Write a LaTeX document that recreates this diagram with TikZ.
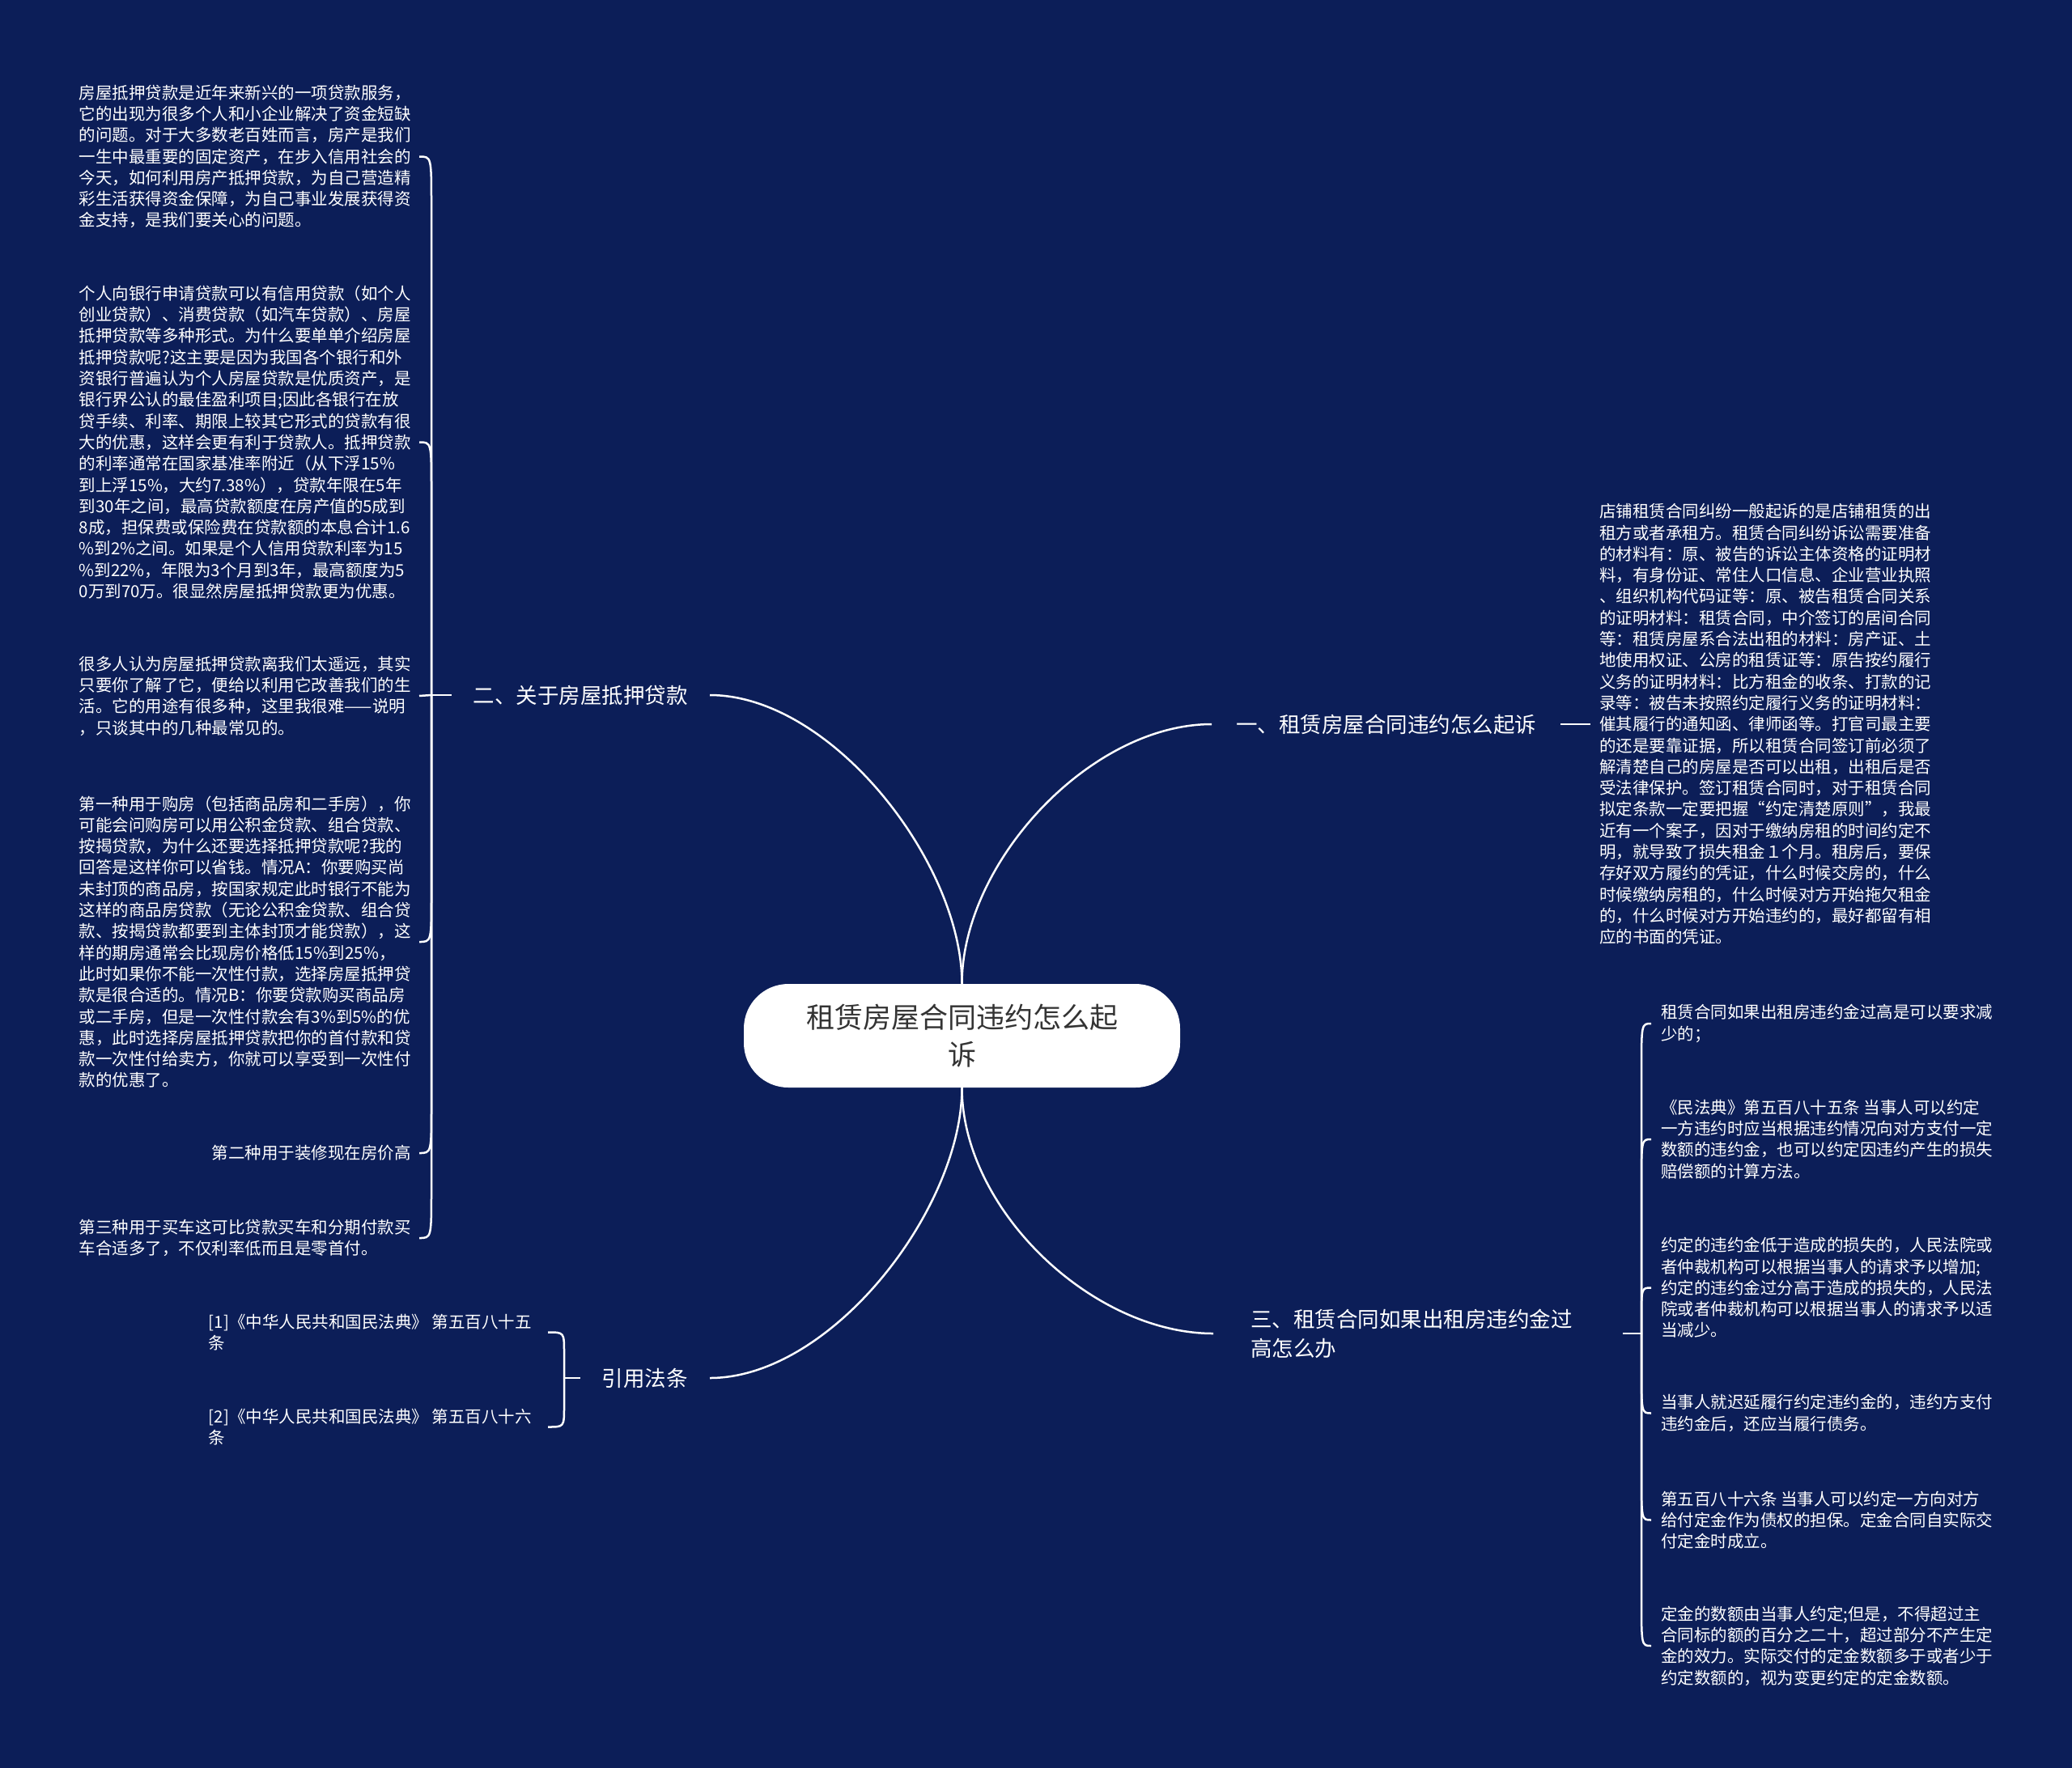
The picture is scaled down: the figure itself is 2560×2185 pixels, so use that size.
\documentclass[tikz,border=0pt]{standalone}
\usepackage{fontspec}
\setmainfont{Noto Sans CJK SC}
\usetikzlibrary{calc}
\definecolor{bgnavy}{HTML}{0C1E58}
\definecolor{hubtext}{HTML}{333333}
\begin{document}
\begin{tikzpicture}[x=1pt,y=-1pt,
  link/.style={draw=white, line width=2.5pt},
  leaf/.style={text=white, font=\fontsize{20.5}{26.3}\selectfont, align=left, inner xsep=10pt, inner ysep=0pt},
  branch/.style={text=white, font=\fontsize{26.5}{36}\selectfont, inner ysep=4pt},
  hub/.style={fill=white, rounded corners=55pt, minimum width=539pt, minimum height=128pt, align=center, text=hubtext, font=\fontsize{35}{46}\selectfont}]
\fill[bgnavy] (0,0) rectangle (2560,2185);
\useasboundingbox (0,0) rectangle (2560,2185);

% centre
\node[hub] (c) at (1188.5,1280) {租赁房屋合同违约怎么起\\诉};

% branches
\node[branch, anchor=west, inner xsep=30pt] (b1) at (1497,895) {一、租赁房屋合同违约怎么起诉};
\node[branch, anchor=east, inner xsep=27pt] (b2) at (877,859) {二、关于房屋抵押贷款};
\node[branch, anchor=west, inner xsep=46pt, text width=414pt, align=left] (b3) at (1499,1648) {三、租赁合同如果出租房违约金过\\高怎么办};
\node[branch, anchor=east, inner xsep=27pt] (b4) at (877,1703) {引用法条};

\draw[link] (c.north) .. controls +(0,-150) and +(-150,0) .. (b1.west);
\draw[link] (c.north) .. controls +(0,-150) and +(150,0) .. (b2.east);
\draw[link] (c.south) .. controls +(0,150) and +(-150,0) .. (b3.west);
\draw[link] (c.south) .. controls +(0,150) and +(150,0) .. (b4.east);

% branch one leaf
\node[leaf, anchor=west, inner xsep=11pt] (a1) at (1965,895) {店铺租赁合同纠纷一般起诉的是店铺租赁的出\\
租方或者承租方。租赁合同纠纷诉讼需要准备\\
的材料有：原、被告的诉讼主体资格的证明材\\
料，有身份证、常住人口信息、企业营业执照\\
、组织机构代码证等：原、被告租赁合同关系\\
的证明材料：租赁合同，中介签订的居间合同\\
等：租赁房屋系合法出租的材料：房产证、土\\
地使用权证、公房的租赁证等：原告按约履行\\
义务的证明材料：比方租金的收条、打款的记\\
录等：被告未按照约定履行义务的证明材料：\\
催其履行的通知函、律师函等。打官司最主要\\
的还是要靠证据，所以租赁合同签订前必须了\\
解清楚自己的房屋是否可以出租，出租后是否\\
受法律保护。签订租赁合同时，对于租赁合同\\
拟定条款一定要把握“约定清楚原则”，我最\\
近有一个案子，因对于缴纳房租的时间约定不\\
明，就导致了损失租金１个月。租房后，要保\\
存好双方履约的凭证，什么时候交房的，什么\\
时候缴纳房租的，什么时候对方开始拖欠租金\\
的，什么时候对方开始违约的，最好都留有相\\
应的书面的凭证。};
\draw[link] (b1.east) -- (a1.west);

% branch two leaves
\node[leaf, anchor=east] (l1) at (518,193.5) {房屋抵押贷款是近年来新兴的一项贷款服务，\\
它的出现为很多个人和小企业解决了资金短缺\\
的问题。对于大多数老百姓而言，房产是我们\\
一生中最重要的固定资产，在步入信用社会的\\
今天，如何利用房产抵押贷款，为自己营造精\\
彩生活获得资金保障，为自己事业发展获得资\\
金支持，是我们要关心的问题。};
\node[leaf, anchor=east] (l2) at (518,546.5) {个人向银行申请贷款可以有信用贷款（如个人\\
创业贷款）、消费贷款（如汽车贷款）、房屋\\
抵押贷款等多种形式。为什么要单单介绍房屋\\
抵押贷款呢?这主要是因为我国各个银行和外\\
资银行普遍认为个人房屋贷款是优质资产，是\\
银行界公认的最佳盈利项目;因此各银行在放\\
贷手续、利率、期限上较其它形式的贷款有很\\
大的优惠，这样会更有利于贷款人。抵押贷款\\
的利率通常在国家基准率附近（从下浮15\%\\
到上浮15\%，大约7.38\%），贷款年限在5年\\
到30年之间，最高贷款额度在房产值的5成到\\
8成，担保费或保险费在贷款额的本息合计1.6\\
\%到2\%之间。如果是个人信用贷款利率为15\\
\%到22\%，年限为3个月到3年，最高额度为5\\
0万到70万。很显然房屋抵押贷款更为优惠。};
\node[leaf, anchor=east] (l3) at (518,860) {很多人认为房屋抵押贷款离我们太遥远，其实\\
只要你了解了它，便给以利用它改善我们的生\\
活。它的用途有很多种，这里我很难——说明\\
，只谈其中的几种最常见的。};
\node[leaf, anchor=east] (l4) at (518,1164) {第一种用于购房（包括商品房和二手房），你\\
可能会问购房可以用公积金贷款、组合贷款、\\
按揭贷款，为什么还要选择抵押贷款呢?我的\\
回答是这样你可以省钱。情况A：你要购买尚\\
未封顶的商品房，按国家规定此时银行不能为\\
这样的商品房贷款（无论公积金贷款、组合贷\\
款、按揭贷款都要到主体封顶才能贷款），这\\
样的期房通常会比现房价格低15\%到25\%，\\
此时如果你不能一次性付款，选择房屋抵押贷\\
款是很合适的。情况B：你要贷款购买商品房\\
或二手房，但是一次性付款会有3\%到5\%的优\\
惠，此时选择房屋抵押贷款把你的首付款和贷\\
款一次性付给卖方，你就可以享受到一次性付\\
款的优惠了。};
\node[leaf, anchor=east] (l5) at (518,1425) {第二种用于装修现在房价高};
\node[leaf, anchor=east] (l6) at (518,1530) {第三种用于买车这可比贷款买车和分期付款买\\
车合适多了，不仅利率低而且是零首付。};

\coordinate (s2) at (533,859);
\draw[link] (b2.west) -- (s2);
\draw[link] (s2) -- ($(s2|-l1.east)+(0,60)$) .. controls (s2|-l1.east) .. (l1.east);
\draw[link] (s2) -- ($(s2|-l2.east)+(0,60)$) .. controls (s2|-l2.east) .. (l2.east);
\draw[link] (s2) -- (l3.east);
\draw[link] (s2) -- ($(s2|-l4.east)+(0,-60)$) .. controls (s2|-l4.east) .. (l4.east);
\draw[link] (s2) -- ($(s2|-l5.east)+(0,-60)$) .. controls (s2|-l5.east) .. (l5.east);
\draw[link] (s2) -- ($(s2|-l6.east)+(0,-60)$) .. controls (s2|-l6.east) .. (l6.east);

% branch three leaves
\node[leaf, anchor=west, inner xsep=12pt] (r1) at (2040,1265) {租赁合同如果出租房违约金过高是可以要求减\\
少的；};
\node[leaf, anchor=west, inner xsep=12pt] (r2) at (2040,1408) {《民法典》第五百八十五条 当事人可以约定\\
一方违约时应当根据违约情况向对方支付一定\\
数额的违约金，也可以约定因违约产生的损失\\
赔偿额的计算方法。};
\node[leaf, anchor=west, inner xsep=12pt] (r3) at (2040,1591.5) {约定的违约金低于造成的损失的，人民法院或\\
者仲裁机构可以根据当事人的请求予以增加;\\
约定的违约金过分高于造成的损失的，人民法\\
院或者仲裁机构可以根据当事人的请求予以适\\
当减少。};
\node[leaf, anchor=west, inner xsep=12pt] (r4) at (2040,1746.5) {当事人就迟延履行约定违约金的，违约方支付\\
违约金后，还应当履行债务。};
\node[leaf, anchor=west, inner xsep=12pt] (r5) at (2040,1878.5) {第五百八十六条 当事人可以约定一方向对方\\
给付定金作为债权的担保。定金合同自实际交\\
付定金时成立。};
\node[leaf, anchor=west, inner xsep=12pt] (r6) at (2040,2034) {定金的数额由当事人约定;但是，不得超过主\\
合同标的额的百分之二十，超过部分不产生定\\
金的效力。实际交付的定金数额多于或者少于\\
约定数额的，视为变更约定的定金数额。};

\coordinate (s3) at (2028,1648);
\draw[link] (b3.east) -- (s3);
\draw[link] (s3) -- ($(s3|-r1.west)+(0,60)$) .. controls (s3|-r1.west) .. (r1.west);
\draw[link] (s3) -- ($(s3|-r2.west)+(0,60)$) .. controls (s3|-r2.west) .. (r2.west);
\draw[link] (s3) -- ($(s3|-r3.west)+(0,40)$) .. controls (s3|-r3.west) .. (r3.west);
\draw[link] (s3) -- ($(s3|-r4.west)+(0,-60)$) .. controls (s3|-r4.west) .. (r4.west);
\draw[link] (s3) -- ($(s3|-r5.west)+(0,-60)$) .. controls (s3|-r5.west) .. (r5.west);
\draw[link] (s3) -- ($(s3|-r6.west)+(0,-60)$) .. controls (s3|-r6.west) .. (r6.west);

% citations
\node[leaf, anchor=east, inner xsep=20pt] (f1) at (677,1646.5) {[1]《中华人民共和国民法典》 第五百八十五\\
条};
\node[leaf, anchor=east, inner xsep=20pt] (f2) at (677,1763.5) {[2]《中华人民共和国民法典》 第五百八十六\\
条};
\coordinate (s4) at (697,1703);
\draw[link] (b4.west) -- (s4);
\draw[link] (s4) -- ($(s4|-f1.east)+(0,25)$) .. controls (s4|-f1.east) .. (f1.east);
\draw[link] (s4) -- ($(s4|-f2.east)+(0,-25)$) .. controls (s4|-f2.east) .. (f2.east);
\end{tikzpicture}
\end{document}
